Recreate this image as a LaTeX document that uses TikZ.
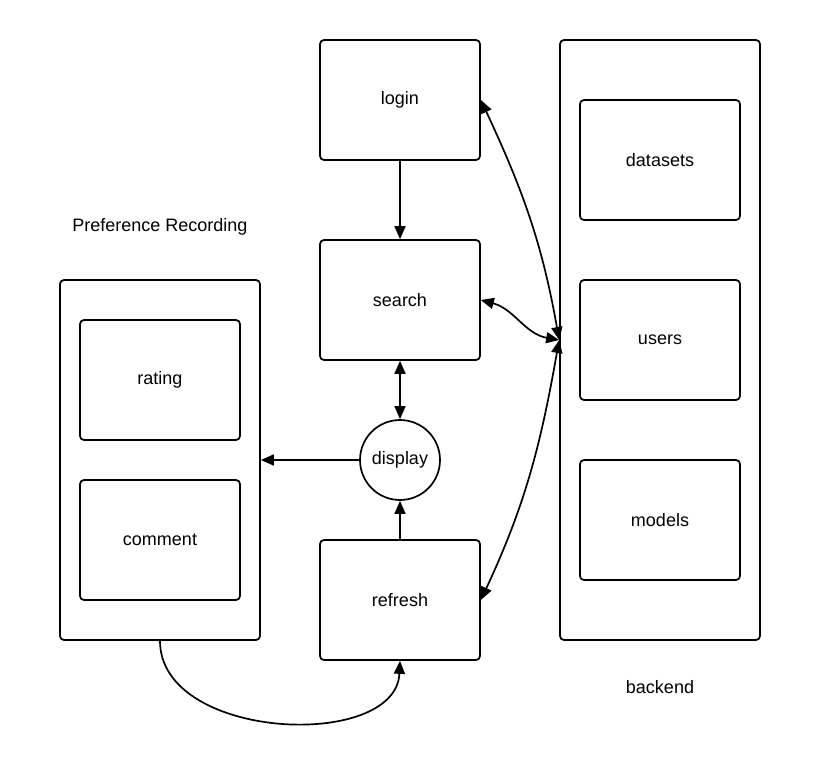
\documentclass[tikz,border=0pt]{standalone}
\usepackage{fontspec}
\setmainfont{Liberation Sans}
\usetikzlibrary{arrows.meta}

\begin{document}
\begin{tikzpicture}[x=1pt,y=-1pt,line width=1.7pt,
	box/.style={draw,rounded corners=4pt,minimum width=160pt,minimum height=120pt,font=\fontsize{18}{21}\selectfont},
	tip/.style={-{Triangle[length=13pt,width=11pt]}},
	tips/.style={{Triangle[length=13pt,width=11pt]}-{Triangle[length=13pt,width=11pt]}}]
	\useasboundingbox (0,0) rectangle (820,763);

	% left group
	\node[box,minimum width=200pt,minimum height=360pt] (pref) at (160,460) {};
	\node[box] (rating) at (160,380) {rating};
	\node[box] (comment) at (160,540) {comment};
	\node[font=\fontsize{18}{21}\selectfont] (preflabel) at (160,227) {Preference Recording};

	% middle column
	\node[box] (login) at (400,100) {login};
	\node[box] (search) at (400,300) {search};
	\node[box] (refresh) at (400,600) {refresh};
	\node[draw,circle,minimum size=80pt,inner sep=0pt,font=\fontsize{18}{21}\selectfont] (display) at (400,460) {display};

	% backend
	\node[box,minimum width=200pt,minimum height=600pt] (backend) at (660,340) {};
	\node[box] (datasets) at (660,160) {datasets};
	\node[box] (users) at (660,340) {users};
	\node[box] (models) at (660,520) {models};
	\node[font=\fontsize{18}{21}\selectfont] (backlabel) at (660,687) {backend};

	\draw[tip] (login) -- (search);
	\draw[tips] (search) -- (display);
	\draw[tip] (refresh) -- (display);
	\draw[tip] (display) -- (pref.east |- display);
	\draw[tip] (pref.south) .. controls +(0,100) and +(-4,90) .. (refresh.south);

	\draw[tips] (login.east) to[out=-65,in=100] (backend.west);
	\draw[tips] (search.east) to[out=-15,in=170] (backend.west);
	\draw[tips] (refresh.east) to[out=65,in=-100] (backend.west);
\end{tikzpicture}
\end{document}
